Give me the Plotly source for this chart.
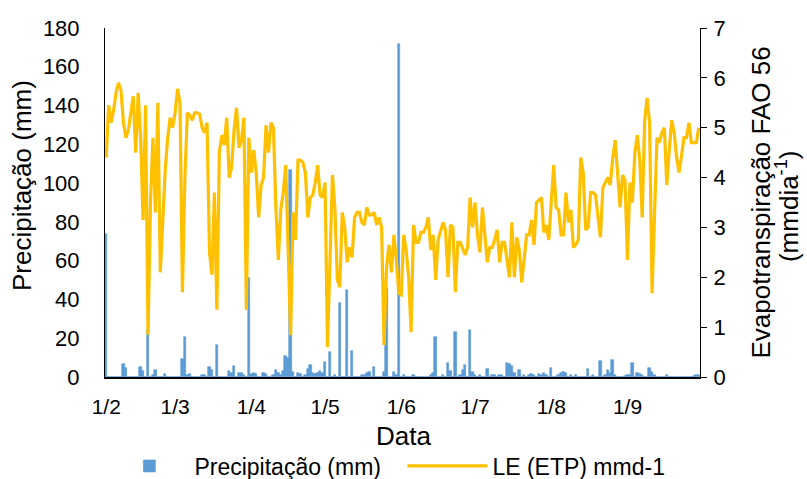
import pandas as pd
import plotly.graph_objects as go

dates = pd.date_range("2019-02-01", "2019-09-30", freq="D")

etp = [
    4.4, 5.45, 5.1, 5.35, 5.7, 5.9, 5.75, 5.1, 4.8, 4.95,
    5.3, 5.63, 4.5, 5.7, 4.8, 3.15, 5.45, 0.85, 3.5, 4.8,
    3.3, 5.5, 2.1, 3.3, 4.15, 4.8, 5.2, 5.0, 5.3, 5.78,
    5.5, 1.7, 4.0, 5.3, 5.25, 5.15, 5.3, 5.3, 5.27, 5.0,
    4.9, 5.1, 2.5, 2.05, 3.7, 1.35, 4.5, 4.85, 4.65, 5.2,
    4.0, 4.2, 4.95, 5.4, 4.6, 4.75, 5.2, 1.35, 4.8, 4.1,
    4.55, 4.1, 3.2, 3.85, 4.0, 5.05, 4.5, 5.1, 5.0, 3.4,
    2.35, 3.35, 3.7, 4.25, 2.4, 0.84, 3.3, 2.75, 4.35, 4.35,
    4.3, 4.1, 3.2, 3.6, 3.65, 3.9, 4.25, 3.65, 3.6, 3.9,
    0.6, 2.2, 4.05, 3.4, 1.95, 1.8, 3.3, 3.0, 2.3, 2.6,
    2.4, 3.2, 3.3, 3.3, 3.1, 3.05, 3.4, 3.25, 3.25, 3.3,
    3.05, 3.2, 3.0, 0.64, 2.2, 2.65, 2.1, 2.85, 2.35, 1.68,
    1.65, 2.85, 2.55, 2.0, 0.9, 3.05, 2.7, 2.7, 2.9, 2.9,
    3.0, 3.2, 2.55, 2.85, 1.95, 2.75, 2.9, 3.1, 2.95, 2.0,
    3.05, 3.0, 1.7, 2.7, 2.7, 2.55, 2.45, 2.6, 3.6, 3.0,
    3.5, 2.85, 2.5, 3.4, 2.8, 2.3, 2.6, 2.6, 2.75, 2.95,
    2.3, 2.7, 2.7, 2.35, 2.0, 3.1, 2.0, 2.8, 2.55, 1.9,
    2.4, 2.85, 2.85, 3.15, 2.65, 3.5, 3.55, 3.6, 2.9, 3.05,
    2.75, 3.55, 4.25, 3.4, 3.35, 2.85, 2.85, 3.7, 3.1, 3.35,
    2.6, 2.65, 2.75, 4.4, 4.1, 2.95, 3.0, 3.7, 3.7, 3.65,
    3.2, 2.8, 3.8, 3.9, 4.0, 3.85, 4.4, 4.75, 4.15, 3.4,
    4.05, 3.95, 2.35, 3.9, 3.5, 4.5, 4.85, 4.35, 3.2, 5.15,
    5.6, 5.1, 1.68, 3.5, 4.8, 4.7, 4.9, 5.0, 3.85, 4.55,
    5.15, 4.9, 4.4, 4.1, 4.5, 4.8, 4.8, 5.1, 4.7, 4.7,
    4.7, 5.0,
]

precip = [
    74, 0, 0, 0, 0, 0, 0, 6.5, 4.5, 0,
    0, 0, 0, 0, 5, 3, 0, 25, 0, 1,
    3.5, 0, 0, 0, 1.5, 0, 0, 0, 0, 0,
    0, 9.5, 20.5, 1, 1.5, 0, 0, 0, 0, 1,
    1, 0, 5, 3.5, 0, 16.5, 0, 0, 0, 0,
    3, 2, 5.5, 0, 2, 2, 1, 0, 51, 1.5,
    2, 1.5, 0, 0, 2, 1.5, 0, 0, 1, 3.5,
    2, 1, 3, 11, 10, 107, 2.5, 0, 2, 1.5,
    0, 1, 4, 6, 2, 1.5, 2, 3, 2, 7.5,
    0, 13, 0, 1, 0, 38, 0, 0, 45, 0,
    13.5, 0, 0, 0, 1, 1, 2, 2.5, 0, 5,
    0, 0, 0, 2.5, 46, 0, 0, 2.5, 1, 172,
    0, 1, 0, 0, 0, 1, 0, 0, 0, 0,
    0, 0, 1, 2, 20.5, 0, 0, 1, 0, 7,
    3, 0, 23, 0, 1, 3.5, 6, 0, 24.5, 2.5,
    1, 0, 1, 0, 0, 4, 0, 1, 1, 0,
    1, 1, 0, 7, 6.5, 5.5, 2, 0, 3.5, 0,
    1, 0, 1, 1.5, 1, 0, 1.5, 1, 2, 1,
    0, 4.5, 0, 0, 1, 2, 2.5, 2, 0, 1,
    0, 1, 0, 0, 0, 0, 4, 0, 1, 0,
    0, 8.5, 0, 1, 3.5, 2, 9, 1, 0, 0,
    0, 0.5, 1, 1, 7, 0, 2, 1.5, 1, 0,
    0, 4.5, 2.5, 1, 0, 0, 0, 0, 1, 0,
    0, 0, 0, 0, 0, 0, 0, 0, 0, 0.5,
    1, 1,
]

FONT = "Liberation Sans, Arial, sans-serif"
BLUE = "#5B9BD5"
GOLD = "#FFC000"
TITLE_SIZE = 26

fig = go.Figure()
fig.add_trace(go.Bar(
    x=dates, y=precip, name="Precipitação (mm)",
    marker=dict(color=BLUE, line=dict(color=BLUE, width=0.6)),
    yaxis="y",
))
fig.add_trace(go.Scatter(
    x=dates, y=etp, name="LE (ETP) mmd-1", mode="lines",
    line=dict(color=GOLD, width=3.2),
    yaxis="y2",
))

fig.update_layout(
    width=807, height=479,
    margin=dict(l=105, r=107, t=28, b=102, autoexpand=False),
    paper_bgcolor="white", plot_bgcolor="white",
    font=dict(family=FONT, size=21, color="black"),
    bargap=0,
    showlegend=True,
    legend=dict(orientation="h", x=-0.001, xanchor="left", y=-0.255, yanchor="middle",
                font=dict(size=23), itemwidth=80, entrywidth=203, entrywidthmode="pixels",
                traceorder="normal", bgcolor="rgba(0,0,0,0)"),
    xaxis=dict(
        type="date",
        range=["2019-01-31 12:00", "2019-09-30 12:00"],
        tick0="2019-02-01", dtick="M1", tickformat="%-d/%-m",
        showline=True, linecolor="black", linewidth=2,
        showgrid=False, zeroline=False, ticks="",
        tickfont=dict(size=21), ticklabelstandoff=10, automargin=False,
    ),
    yaxis=dict(
        range=[0, 180], dtick=20,
        showline=True, linecolor="black", linewidth=1,
        showgrid=False, zeroline=False, ticks="",
        tickfont=dict(size=22), ticklabelstandoff=20, automargin=False,
    ),
    yaxis2=dict(
        range=[0, 7], dtick=1, overlaying="y", side="right",
        showline=True, linecolor="black", linewidth=1,
        showgrid=False, zeroline=False, ticks="outside", ticklen=6, tickcolor="black",
        tickfont=dict(size=22), ticklabelstandoff=2, automargin=False,
    ),
    annotations=[
        dict(text="Precipitação (mm)", textangle=-90, showarrow=False,
             xref="paper", yref="paper", x=-0.1395, y=0.55,
             xanchor="center", yanchor="middle", font=dict(size=TITLE_SIZE)),
        dict(text="Evapotranspiração FAO 56", textangle=-90, showarrow=False,
             xref="paper", yref="paper", x=1.1025, y=0.5,
             xanchor="center", yanchor="middle", font=dict(size=TITLE_SIZE)),
        dict(text="(mmdia<sup>-1</sup>)", textangle=-90, showarrow=False,
             xref="paper", yref="paper", x=1.148, y=0.49,
             xanchor="center", yanchor="middle", font=dict(size=TITLE_SIZE)),
        dict(text="Data", showarrow=False,
             xref="paper", yref="paper", x=0.5025, y=-0.169,
             xanchor="center", yanchor="middle", font=dict(size=TITLE_SIZE)),
    ],
)

fig.write_html("out.html")
